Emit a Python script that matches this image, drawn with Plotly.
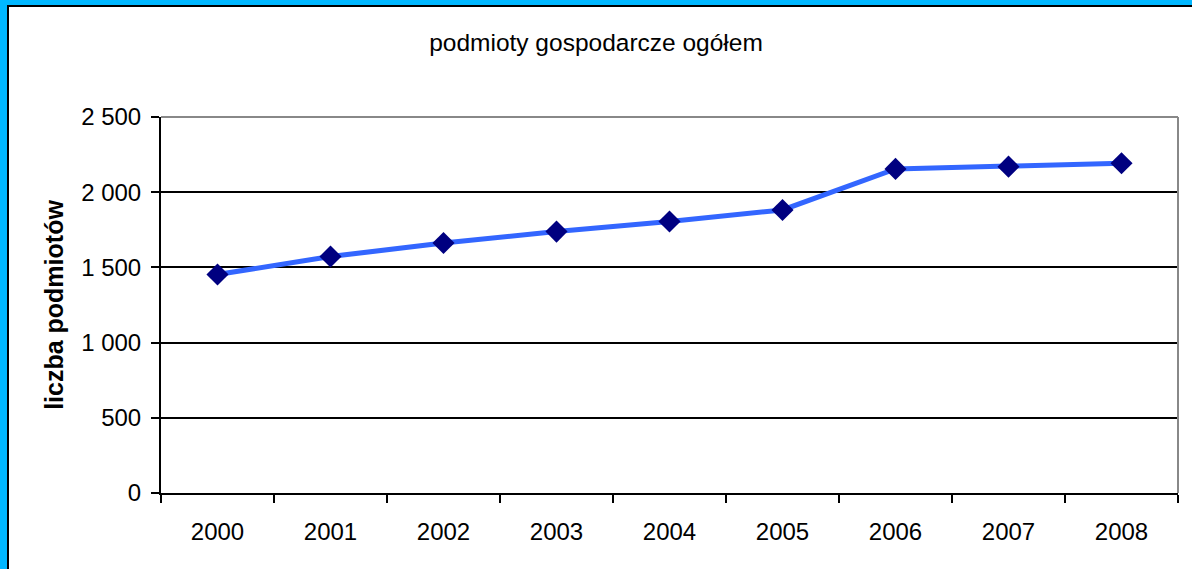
import plotly.graph_objects as go

years = ["2000", "2001", "2002", "2003", "2004", "2005", "2006", "2007", "2008"]
counts = [1453, 1572, 1662, 1738, 1805, 1882, 2155, 2170, 2192]
y_tick_vals = [0, 500, 1000, 1500, 2000, 2500]
y_tick_text = ["0", "500", "1 000", "1 500", "2 000", "2 500"]

W, H = 1192, 569
L, R, T, B = 161, 1178, 117, 493

def px(x):
    return (x - L) / (R - L)

def py(y):
    return (B - y) / (B - T)

FONT = "Liberation Sans, Arial, sans-serif"

fig = go.Figure()
fig.add_trace(go.Scatter(
    x=years, y=counts, mode="lines+markers",
    line=dict(color="#3366FF", width=5),
    marker=dict(symbol="diamond", size=17, color="#000080", line=dict(width=0)),
    showlegend=False, cliponaxis=False,
))

shapes = [
    dict(type="line", xref="paper", yref="paper", x0=0, x1=1, y0=1, y1=1,
         line=dict(color="#888888", width=2), layer="above"),
    dict(type="line", xref="paper", yref="paper", x0=1, x1=1, y0=0, y1=1,
         line=dict(color="#888888", width=2), layer="above"),
    dict(type="rect", xref="paper", yref="paper", x0=px(0), x1=px(7), y0=py(H), y1=py(0),
         fillcolor="#00B7FF", line=dict(width=0), layer="above"),
    dict(type="rect", xref="paper", yref="paper", x0=px(0), x1=px(W), y0=py(5), y1=py(0),
         fillcolor="#00B7FF", line=dict(width=0), layer="above"),
    dict(type="rect", xref="paper", yref="paper", x0=px(7), x1=px(9), y0=py(H), y1=py(5),
         fillcolor="#000000", line=dict(width=0), layer="above"),
    dict(type="rect", xref="paper", yref="paper", x0=px(7), x1=px(W), y0=py(7), y1=py(5),
         fillcolor="#000000", line=dict(width=0), layer="above"),
]

fig.update_layout(
    width=W, height=H,
    margin=dict(l=L, r=W - R, t=T, b=H - B, autoexpand=False),
    paper_bgcolor="white", plot_bgcolor="white",
    font=dict(family=FONT, size=24, color="black"),
    title=dict(text="podmioty gospodarcze ogółem", x=0.5, xanchor="center",
               y=1 - 42 / H, yanchor="middle", font=dict(size=24.5, color="black")),
    shapes=shapes,
    xaxis=dict(
        type="category", range=[-0.5, len(years) - 0.5], tickson="boundaries",
        ticks="outside", ticklen=8,
        tickwidth=2, tickcolor="black", showline=True, linecolor="black", linewidth=2,
        showgrid=False, tickfont=dict(size=24), fixedrange=True, ticklabelstandoff=16,
    ),
    yaxis=dict(
        range=[0, 2500], tickvals=y_tick_vals, ticktext=y_tick_text,
        ticks="outside", ticklen=8, tickwidth=2, tickcolor="black",
        showline=True, linecolor="black", linewidth=2,
        showgrid=True, gridcolor="black", gridwidth=1.5, zeroline=False,
        tickfont=dict(size=24), ticklabelstandoff=5, fixedrange=True,
        title=dict(text="<b>liczba podmiotów</b>", font=dict(size=25), standoff=10),
    ),
)

fig.write_html("out.html", config={"displayModeBar": False},
               post_script="document.body.style.margin='0';document.body.style.overflow='hidden';")
